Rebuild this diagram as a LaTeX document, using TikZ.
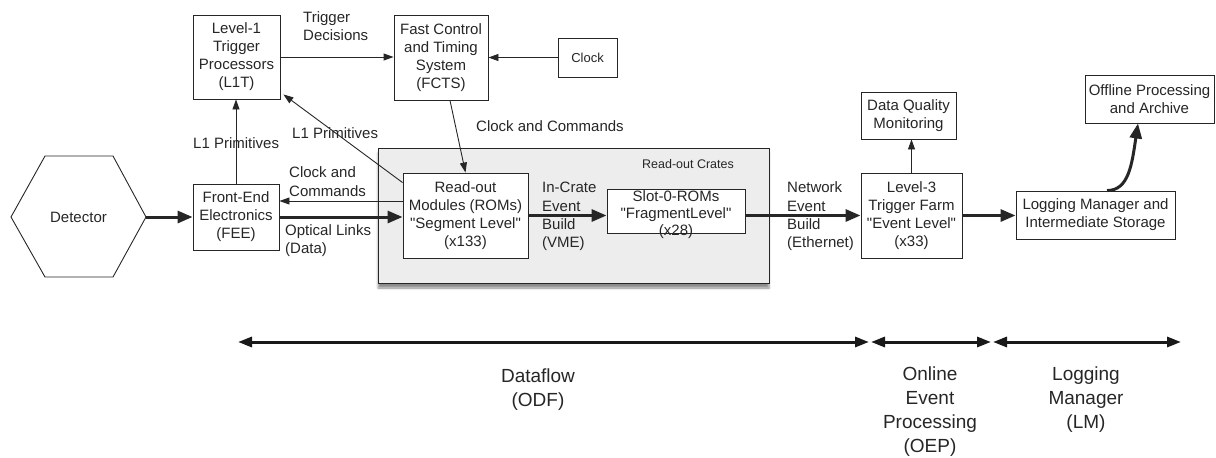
\documentclass[tikz,border=0pt]{standalone}
\usepackage{fontspec}
\setmainfont{Liberation Sans}
\usetikzlibrary{arrows.meta,calc,shadows.blur}
\begin{document}
\begin{tikzpicture}[x={(1pt,0)},y={(0,-1pt)},
  box/.style={draw=black!85, line width=0.9pt, fill=white, align=center, inner sep=0pt,
    font=\fontsize{15}{18}\selectfont, text=black!85},
  thinarr/.style={draw=black!85, line width=0.9pt, -{Triangle[length=10pt,width=7pt]}},
  thickarr/.style={draw=black!85, line width=3pt, -{Triangle[length=15pt,width=12pt]}},
  spanarr/.style={draw=black!90, line width=3pt, {Triangle[length=14pt,width=10pt]}-{Triangle[length=14pt,width=10pt]}},
  lbl/.style={align=left, inner sep=0pt, font=\fontsize{15}{18.3}\selectfont, text=black!85},
  big/.style={align=center, inner sep=0pt, font=\fontsize{19}{24}\selectfont, text=black!85},
  crate/.style={draw=black!85, line width=1pt, fill=black!7, inner sep=0pt,
    blur shadow={shadow xshift=0pt, shadow yshift=-5pt, shadow blur steps=6, shadow opacity=45}}
]
\useasboundingbox (0,0) rectangle (1216,458);

% Detector hexagon
\draw[draw=black!85, line width=0.9pt] (11,217) -- (45,156) -- (113,156) -- (146,217) -- (113,277) -- (45,277) -- cycle;
\node[inner sep=0pt, font=\fontsize{15}{18}\selectfont, text=black!85] (det) at (78.5,217) {Detector};
\coordinate (dettip) at (146,217);

% Read-out crate
\node[crate, minimum width=391pt, minimum height=135pt] (crate) at (573.5,215.5) {};
\node[inner sep=0pt, font=\fontsize{12.5}{15}\selectfont, text=black!85] (cratelbl) at (688,164) {Read-out Crates};

% Boxes
\node[box, minimum width=87pt, minimum height=84pt] (l1t) at (236.5,57) {Level-1\\Trigger\\Processors\\(L1T)};
\node[box, minimum width=94pt, minimum height=85pt] (fcts) at (441,57.5) {Fast Control\\and Timing\\System\\(FCTS)};
\node[box, minimum width=59pt, minimum height=39pt, font=\fontsize{13}{16}\selectfont] (clock) at (587.5,57.5) {Clock};
\node[box, minimum width=86pt, minimum height=66pt] (fee) at (236,217) {Front-End\\Electronics\\(FEE)};
\node[box, minimum width=125pt, minimum height=85pt] (rom) at (465.5,215.5) {Read-out\\Modules (ROMs)\\\textquotedbl Segment Level\textquotedbl\\(x133)};
\node[box, minimum width=138pt, minimum height=44pt] (slot) at (676,211) {};
\node[inner sep=0pt, align=center, font=\fontsize{15}{17}\selectfont, text=black!85] (slottxt) at ([yshift=-4pt]slot.center) {Slot-0-ROMs\\\textquotedbl FragmentLevel\textquotedbl\\(x28)};
\node[box, minimum width=101pt, minimum height=85pt] (l3) at (911.5,215.5) {Level-3\\Trigger Farm\\\textquotedbl Event Level\textquotedbl\\(x33)};
\node[box, minimum width=95pt, minimum height=47pt] (dqm) at (908.5,115.5) {Data Quality\\Monitoring};
\node[box, minimum width=159pt, minimum height=48pt] (lm) at (1095.5,215) {Logging Manager and\\Intermediate Storage};
\node[box, minimum width=129pt, minimum height=48pt] (off) at (1149.5,99) {Offline Processing\\and Archive};

% Connectors
\draw[thickarr] (dettip) -- (dettip -| fee.west);
\draw[thinarr] (fee.north) -- (fee.north |- l1t.south);
\node[lbl, anchor=west] (l1pa) at (193,143) {L1 Primitives};
\draw[thinarr] ($(rom.north west)+(0,10)$) -- ($(l1t.south east)+(3,-5)$);
\node[lbl, anchor=west] (l1pb) at (292,133) {L1 Primitives};
\coordinate (cc) at ([yshift=14.5pt]rom.west);
\draw[thinarr] (cc) -- (cc -| fee.east);
\node[lbl, anchor=west] (ccl) at (289,181.5) {Clock and\\Commands};
\draw[thickarr] (fee.east) -- (fee.east -| rom.west);
\node[lbl, anchor=west] (opt) at (285,240.5) {Optical Links\\(Data)};
\draw[thinarr] (l1t.east) -- (l1t.east -| fcts.west);
\node[lbl, anchor=west] (trg) at (303,26) {Trigger\\Decisions};
\draw[thinarr] (clock.west) -- (clock.west -| fcts.east);
\draw[thinarr] ([xshift=9pt]fcts.south) -- (rom.north);
\node[lbl, anchor=west] (cc2) at (476,126) {Clock and Commands};
\draw[thickarr] (rom.east) -- (rom.east -| slot.west);
\node[lbl, anchor=west] (icb) at (542,216.5) {In-Crate\\Event\\Build\\(VME)};
\draw[thickarr] (slot.east |- l3.west) -- (l3.west);
\node[lbl, anchor=west] (neb) at (787,216.5) {Network\\Event\\Build\\(Ethernet)};
\draw[thinarr] (l3.north) -- (l3.north |- dqm.south);
\draw[thickarr] (l3.east) -- (l3.east -| lm.west);
\draw[thickarr] ([xshift=11.5pt]lm.north) .. controls +(22,0) and +(-6,40) .. ([xshift=-11.5pt]off.south);

% Span arrows
\coordinate (s0) at (238,342);
\coordinate (s1) at (869,342);
\coordinate (s2) at (871,342);
\coordinate (s3) at (991,342);
\coordinate (s4) at (993,342);
\coordinate (s5) at (1181,342);
\draw[spanarr] (s0) -- (s1);
\draw[spanarr] (s2) -- (s3);
\draw[spanarr] (s4) -- (s5);
\node[big] (odf) at (538,390) {Dataflow\\(ODF)};
\node[big] (oep) at (930,412) {Online\\Event\\Processing\\(OEP)};
\node[big] (lmg) at (1086,400) {Logging\\Manager\\(LM)};
\end{tikzpicture}
\end{document}
